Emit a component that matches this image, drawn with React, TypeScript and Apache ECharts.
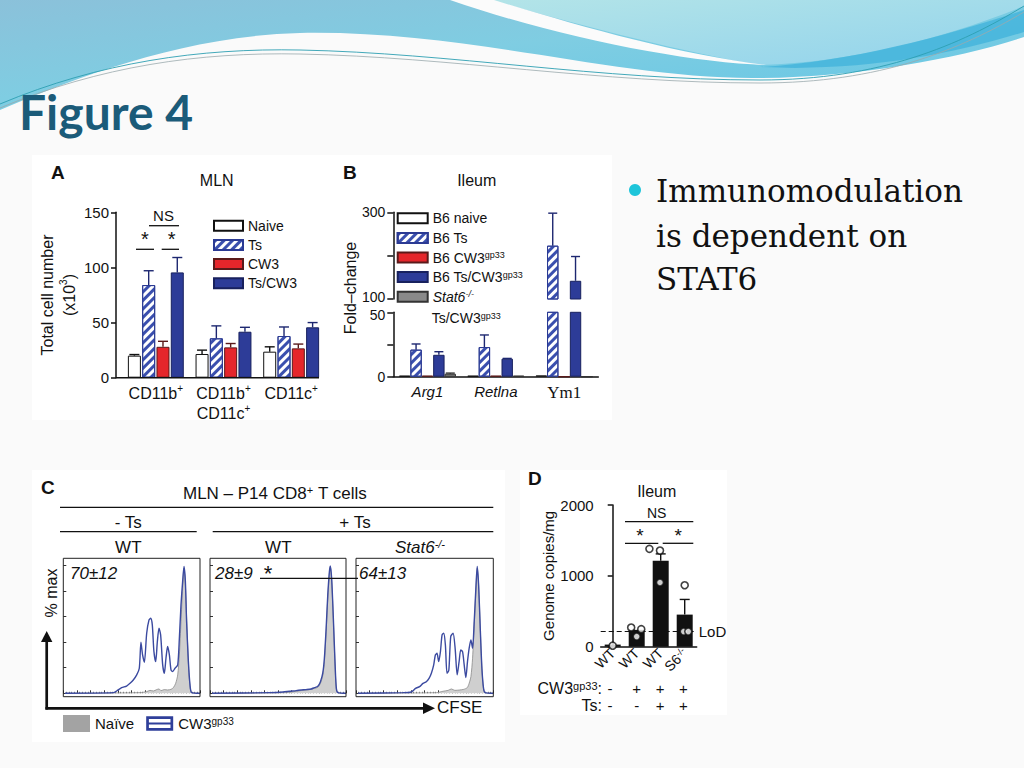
import React, { useEffect, useRef } from 'react';
import * as echarts from 'echarts';

const SANS = "'Liberation Sans', Arial, sans-serif";
const SERIF = "'DejaVu Serif', serif";

// ---------------- Panel A (MLN, total cell number x10^3) ----------------
const aCategories = ['CD11b+', 'CD11b+\nCD11c+', 'CD11c+'];
const aGroups = ['Naive', 'Ts', 'CW3', 'Ts/CW3'];
const aNaive = [20, 21.5, 23.6];
const aTs = [84, 35.7, 37.8];
const aCW3 = [28, 27.5, 26.6];
const aTsCW3 = [95.5, 41.7, 45.7];
const aNaiveErrTop = [21, 25, 28];
const aTsErrTop = [97, 47, 46];
const aCW3ErrTop = [33, 31, 30.5];
const aTsCW3ErrTop = [109, 45.7, 50];

// ---------------- Panel B (Ileum, fold-change, broken axis) ----------------
const bCategories = ['Arg1', 'Retlna', 'Ym1'];
const bGroups = ['B6 naive', 'B6 Ts', 'B6 CW3gp33', 'B6 Ts/CW3gp33', 'Stat6-/- Ts/CW3gp33'];
const bNaive = [0.8, 0.8, 1];
const bTs = [21, 23, 223];
const bCW3 = [0.8, 0.8, 0];
const bTsCW3 = [17, 14, 142];
const bStat6 = [2.3, 0.8, 0];
const bNaiveErrTop = [null, null, null];
const bTsErrTop = [25.4, 32.4, 298];
const bCW3ErrTop = [null, null, null];
const bTsCW3ErrTop = [19.4, 14.2, 198];
const bStat6ErrTop = [2.8, null, null];

// ---------------- Panel C (CFSE histograms, x = % of CFSE axis, y = % max) ----------------
const cHeaders = ['WT', 'WT', 'Stat6-/-'];
const cPercents = ['70±12', '28±9', '64±13'];
const c1Naive = [[1.2, 0], [56.1, 0.5], [61, 1.3], [63.4, 2.3], [65.9, 1.8], [68.3, 2.9], [70, 3.4], [71.5, 2.1], [73.9, 2.9], [76.3, 2.6], [78.8, 3.1], [80.5, 4.4], [82.2, 7.8], [83.7, 14.4], [84.9, 30], [86.1, 56.1], [87.3, 82.2], [88.3, 97.9], [89.3, 84.9], [90.5, 50.9], [91.7, 19.6], [92.9, 3.9], [94.4, 0.3], [100, 0]];
const c1Cw3 = [[1.2, 0], [36.6, 0.5], [39, 1.8], [42.7, 4.4], [46.3, 5.7], [48.8, 7.8], [51.2, 10.4], [53.7, 14.4], [55.6, 19.6], [56.8, 39.9], [58, 30], [59.3, 24.3], [61, 47], [62.7, 57.4], [63.9, 58.7], [65.1, 53.5], [66.3, 32.6], [67.6, 24.8], [68.8, 40.5], [70, 50.9], [71.2, 45.7], [72.7, 22.2], [73.9, 15.7], [75.1, 27.4], [76.3, 36.6], [77.6, 30], [78.8, 18.3], [80, 17], [81.7, 19.6], [83.7, 22.2], [84.9, 43.1], [86.1, 69.2], [87.3, 87.5], [88.3, 99.2], [89.3, 87.5], [90.2, 56.1], [91.5, 24.8], [92.7, 6.5], [93.9, 0.5], [100, 0]];
const c2Naive = [[1.5, 0], [56.1, 0.5], [63.4, 1.6], [68.3, 2.3], [73.2, 2.9], [76.8, 3.9], [79.3, 4.7], [81.2, 7.8], [82.9, 13.8], [84.1, 24.8], [85.4, 48.3], [86.6, 74.4], [87.8, 94], [88.5, 98.4], [89.5, 87.5], [90.7, 57.4], [92, 20.9], [92.9, 3.4], [94.1, 0.3], [100, 0]];
const c2Cw3 = [[1.5, 0], [43.9, 0.5], [53.7, 1], [58.5, 1.6], [63.4, 2.1], [67.1, 2.6], [70.7, 2.9], [74.4, 3.4], [76.8, 4.4], [79.3, 5.5], [81.2, 9.1], [82.9, 15.7], [84.1, 27.4], [85.4, 50.9], [86.6, 77], [87.8, 95.3], [88.5, 99.7], [89.5, 88.8], [90.7, 58.7], [92, 22.2], [92.9, 3.9], [94.1, 0.5], [100, 0]];
const c3Naive = [[1.5, 0], [58.5, 0.5], [63.4, 1.6], [67.1, 2.3], [69.5, 3.4], [72, 2.3], [75.6, 2.6], [78.5, 3.1], [81, 4.4], [82.4, 7.8], [83.7, 13.1], [84.9, 27.4], [86.1, 53.5], [87.3, 79.6], [88.3, 97.9], [89.3, 84.9], [90.5, 50.9], [91.7, 19.6], [92.9, 3.4], [94.1, 0.3], [100, 0]];
const c3Cw3 = [[1.5, 0], [34.1, 0.5], [40.2, 1], [43.4, 3.9], [46.3, 5.2], [48.8, 7.8], [51.2, 9.1], [53.2, 11.7], [54.9, 15.7], [56.6, 22.2], [57.8, 30], [59, 31.3], [60.2, 24.8], [61.5, 32.6], [62.7, 45.7], [63.9, 47], [65.1, 37.9], [66.3, 15.7], [67.6, 18], [69, 44.4], [70.7, 47], [72.2, 35.2], [73.7, 14.4], [75.1, 24.8], [76.3, 33.9], [77.6, 32.6], [78.8, 22.2], [80, 12.3], [81.2, 24.8], [82.4, 35.2], [83.7, 41.8], [84.9, 35.2], [86.1, 56.1], [87.3, 82.2], [88.3, 99.2], [89.3, 84.9], [90.5, 50.9], [91.7, 19.6], [92.9, 3.9], [94.1, 0.5], [100, 0]];

// ---------------- Panel D (Ileum, genome copies/mg) ----------------
const dCategories = ['WT', 'WT', 'WT', 'S6-/-'];
const dMeans = [30, 238, 1214, 453];
const dErrTop = [null, null, 1310, 667];
const dPoints = [[0, 14], [0.77, 271], [1.19, 248], [1, 143], [1.53, 1381], [1.97, 1357], [1.97, 906], [3, 867], [2.96, 214], [3.15, 214]];
const dLoD = 214;
const dCW3Row = ['-', '+', '+', '+'];
const dTsRow = ['-', '-', '+', '+'];

// ---------------- helpers ----------------
const supify = (s: string) => s.replace(/(\+|-\/-|gp33)/g, (m) => `{sup|${m}}`);
const SUP = { fontSize: 10, verticalAlign: 'top', fontFamily: SANS, color: '#111' };

const stripeDecal = {
  symbol: 'rect', symbolSize: 1, dashArrayX: [1, 0], dashArrayY: [2.2, 2.6],
  rotation: -Math.PI / 4, color: '#3a4fae',
};

function errData(vals: number[][], tops: (number | null)[][], cats: number[]) {
  const out: number[][] = [];
  vals.forEach((arr, si) => {
    cats.forEach((ci) => {
      const t = tops[si][ci];
      if (t != null) out.push([ci, si, arr[ci], t]);
    });
  });
  return out;
}

const makeErrRender = (step: number, n: number, cap: number, colors: string[]) => (params: any, api: any) => {
  const cat = api.value(0);
  const si = api.value(1);
  const base = api.coord([cat, api.value(2)]);
  const top = api.coord([cat, api.value(3)]);
  const x = base[0] + (si - (n - 1) / 2) * step;
  const c = colors[si];
  return {
    type: 'group',
    children: [
      { type: 'line', shape: { x1: x, y1: base[1], x2: x, y2: top[1] }, style: { stroke: c, lineWidth: 1.4 } },
      { type: 'line', shape: { x1: x - cap, y1: top[1], x2: x + cap, y2: top[1] }, style: { stroke: c, lineWidth: 1.4 } },
    ],
  };
};

const txt = (x: number, y: number, text: string, o: any = {}) => ({
  type: 'text', x, y, z: 30, rotation: o.rotation || 0,
  style: {
    text, fill: o.fill || '#111', fontSize: o.size || 15, fontFamily: o.family || SANS,
    fontWeight: o.weight || 'normal', fontStyle: o.fstyle || 'normal',
    align: o.align || 'center', textAlign: o.align || 'center',
    verticalAlign: o.va || 'middle', textVerticalAlign: o.va || 'middle',
    rich: o.rich,
  },
});
const ln = (x1: number, y1: number, x2: number, y2: number, w = 1.3, c = '#111') => ({
  type: 'line', z: 30, shape: { x1, y1, x2, y2 }, style: { stroke: c, lineWidth: w },
});

// header decoration shapes
const HEADER_SHAPES: Record<string, string> = {
  hdrMain: 'M0,0 L1024,0 L1024,37 C960,58 860,77 760,78 C620,80 470,30 300,33 C180,36 70,80 0,110 Z',
  hdrLight: 'M490,0 L1024,0 L1024,6 C940,40 850,62 760,65 C680,52 570,22 490,0 Z',
  hdrSwoosh: 'M450,0 L494,0 C575,25 680,55 766,65 C690,63 560,38 450,0 Z',
  hdrBand: 'M760,67 C850,62 950,35 1024,10 L1024,32 C950,55 860,72 760,67 Z',
  hdrLine1: 'M0,104 C100,62 200,48 300,50 C450,53 600,80 760,80 C880,80 960,45 1024,6',
  hdrLine2: 'M0,108 C100,66 200,52 300,54 C450,57 600,83 760,83 C880,83 960,50 1024,12',
};
let shapesRegistered = false;
function registerShapes() {
  if (shapesRegistered) return;
  Object.keys(HEADER_SHAPES).forEach((k) => {
    echarts.graphic.registerShape(k, echarts.graphic.extendPath(HEADER_SHAPES[k], {}) as any);
  });
  shapesRegistered = true;
}

function buildOption() {
  const aVals = [aNaive, aTs, aCW3, aTsCW3];
  const aTops = [aNaiveErrTop, aTsErrTop, aCW3ErrTop, aTsCW3ErrTop];
  const aStyles = [
    { color: '#ffffff', borderColor: '#111111', borderWidth: 1 },
    { color: '#ffffff', borderColor: '#2b3a93', borderWidth: 1, decal: stripeDecal },
    { color: '#e5262b', borderColor: '#5a1a1a', borderWidth: 1 },
    { color: '#2d3c98', borderColor: '#18215e', borderWidth: 1 },
  ];
  const aErrColors = ['#111111', '#1d2770', '#5a1a1a', '#1d2770'];

  const bVals = [bNaive, bTs, bCW3, bTsCW3, bStat6];
  const bTops = [bNaiveErrTop, bTsErrTop, bCW3ErrTop, bTsCW3ErrTop, bStat6ErrTop];
  const bStyles = [
    { color: '#ffffff', borderColor: '#111111', borderWidth: 1 },
    { color: '#ffffff', borderColor: '#2b3a93', borderWidth: 1, decal: stripeDecal },
    { color: '#e5262b', borderColor: '#5a1a1a', borderWidth: 1 },
    { color: '#2d3c98', borderColor: '#18215e', borderWidth: 1 },
    { color: '#8a8a8a', borderColor: '#333333', borderWidth: 1 },
  ];
  const bErrColors = ['#111111', '#1d2770', '#5a1a1a', '#1d2770', '#333333'];

  const cLefts = [63.3, 210, 356];
  const cWidths = [136.7, 136, 137.3];
  const cNaive = [c1Naive, c2Naive, c3Naive];
  const cCw3 = [c1Cw3, c2Cw3, c3Cw3];

  const gridBase = { containLabel: false, outerBoundsMode: 'none' };
  const grids: any[] = [
    { ...gridBase, left: 122, top: 212.3, width: 203, height: 165.4 },
    { ...gridBase, left: 393.3, top: 312.3, width: 205, height: 64.4 },
    { ...gridBase, left: 393.3, top: 212.3, width: 205, height: 86.7 },
    { ...gridBase, left: 600.7, top: 505, width: 96, height: 141.7 },
    ...cLefts.map((l, k) => ({ ...gridBase, left: l, top: 565.5, width: cWidths[k], height: 127.8 })),
  ];

  const axisDark = { lineStyle: { color: '#111', width: 1.5 } };
  const tickLbl = { color: '#111', fontFamily: SANS, fontSize: 15 };

  const xAxes: any[] = [
    {
      gridIndex: 0, type: 'category', data: aCategories,
      axisLine: { show: false }, axisTick: { show: false },
      axisLabel: {
        interval: 0, margin: 6, color: '#111', fontFamily: SANS, fontSize: 16, lineHeight: 20,
        formatter: (v: string) => supify(v), rich: { sup: { ...SUP, fontSize: 10 } },
      },
    },
    {
      gridIndex: 1, type: 'category', data: bCategories,
      axisLine: { show: true, ...axisDark }, axisTick: { show: false },
      axisLabel: {
        interval: 0, margin: 7, color: '#111',
        formatter: (v: string) => (v === 'Ym1' ? `{ym|${v}}` : `{it|${v}}`),
        rich: {
          it: { fontStyle: 'italic', fontFamily: SANS, fontSize: 15, color: '#111' },
          ym: { fontFamily: "'Liberation Serif', serif", fontSize: 17, color: '#111' },
        },
      },
    },
    { gridIndex: 2, type: 'category', data: bCategories, show: false },
    {
      gridIndex: 3, type: 'category', data: dCategories,
      axisLine: { show: true, ...axisDark }, axisTick: { show: false },
      axisLabel: {
        interval: 0, rotate: 45, margin: 4, color: '#111', fontFamily: SANS, fontSize: 14,
        formatter: (v: string, i: number) => supify(dCategories[i]), rich: { sup: { ...SUP, fontSize: 9 } },
      },
    },
    { gridIndex: 3, type: 'value', min: -0.5, max: 3.5, show: false },
    ...cLefts.map((_, k) => ({
      gridIndex: 4 + k, type: 'value', min: 0, max: 100, interval: 10, offset: 3.4,
      axisLine: { show: false },
      axisTick: { show: true, inside: true, length: 3, lineStyle: { color: '#333', width: 1 } },
      minorTick: { show: true, splitNumber: 5, length: 1.5, lineStyle: { color: '#555', width: 0.8 } },
      axisLabel: { show: false }, splitLine: { show: false }, minorSplitLine: { show: false },
    })),
  ];

  const yAxes: any[] = [
    {
      gridIndex: 0, type: 'value', min: 0, max: 150, interval: 50, offset: 6,
      axisLine: { show: true, ...axisDark },
      axisTick: { show: true, length: 5, ...axisDark },
      axisLabel: { ...tickLbl, margin: 7 }, splitLine: { show: false },
      name: 'Total cell number\n(x10{sup|3})', nameLocation: 'middle', nameRotate: 90, nameGap: 19,
      nameTextStyle: { color: '#111', fontFamily: SANS, fontSize: 16, lineHeight: 22, rich: { sup: { ...SUP, fontSize: 10 } } },
    },
    {
      gridIndex: 1, type: 'value', min: 0, max: 50, interval: 25,
      axisLine: { show: true, ...axisDark },
      axisTick: { show: true, length: 6, ...axisDark },
      axisLabel: {
        ...tickLbl, fontSize: 14, margin: 8,
        formatter: (v: number) => (v === 25 ? '' : v === 50 ? `{lo|${v}}` : String(v)),
        rich: { lo: { fontFamily: SANS, fontSize: 14, color: '#111', padding: [5, 0, 0, 0] } },
      },
      splitLine: { show: false },
    },
    {
      gridIndex: 2, type: 'value', min: 100, max: 300, interval: 100,
      axisLine: { show: true, ...axisDark },
      axisTick: { show: true, length: 6, ...axisDark },
      axisLabel: {
        ...tickLbl, fontSize: 14, margin: 8,
        formatter: (v: number) => (v === 200 ? '' : v === 100 ? `{hi|${v}}` : String(v)),
        rich: { hi: { fontFamily: SANS, fontSize: 14, color: '#111', padding: [0, 0, 4, 0] } },
      },
      splitLine: { show: false },
    },
    {
      gridIndex: 3, type: 'value', min: 0, max: 2000, interval: 1000,
      axisLine: { show: true, ...axisDark },
      axisTick: { show: true, length: 5, ...axisDark },
      axisLabel: { ...tickLbl, margin: 7, formatter: (v: number) => String(v) }, splitLine: { show: false },
      name: 'Genome copies/mg', nameLocation: 'middle', nameRotate: 90, nameGap: 45,
      nameTextStyle: { color: '#111', fontFamily: SANS, fontSize: 15 },
    },
    ...cLefts.map((_, k) => ({
      gridIndex: 4 + k, type: 'value', min: 0, max: 100, interval: 20,
      axisLine: { show: false },
      axisTick: { show: true, inside: true, length: 3, lineStyle: { color: '#333', width: 1 } },
      axisLabel: { show: false }, splitLine: { show: false },
    })),
  ];

  const series: any[] = [];
  // Panel A bars
  aGroups.forEach((name, si) => {
    series.push({
      type: 'bar', name, xAxisIndex: 0, yAxisIndex: 0, data: aVals[si],
      barWidth: 13, barGap: '10%', itemStyle: aStyles[si],
    });
  });
  series.push({
    type: 'custom', xAxisIndex: 0, yAxisIndex: 0, silent: true, z: 3,
    dimensions: ['cat', 'si', 'val', 'top'], encode: { x: 'cat', y: ['val', 'top'] },
    data: errData(aVals, aTops, [0, 1, 2]), renderItem: makeErrRender(14.3, 4, 5, aErrColors),
  });
  // Panel B lower (0-50) and upper (100-300) bars
  bGroups.forEach((name, si) => {
    series.push({
      type: 'bar', name, xAxisIndex: 1, yAxisIndex: 1, data: bVals[si], clip: true,
      barWidth: 11.4, barGap: '0%', itemStyle: bStyles[si],
    });
  });
  bGroups.forEach((name, si) => {
    series.push({
      type: 'bar', name, xAxisIndex: 2, yAxisIndex: 2, clip: true,
      data: bVals[si].map((v, ci) => (bCategories[ci] === 'Ym1' && v > 100 ? v : '-')),
      barWidth: 11.4, barGap: '0%', itemStyle: bStyles[si],
    });
  });
  series.push({
    type: 'custom', xAxisIndex: 1, yAxisIndex: 1, silent: true, z: 3,
    dimensions: ['cat', 'si', 'val', 'top'], encode: { x: 'cat', y: ['val', 'top'] },
    data: errData(bVals, bTops, [0, 1]), renderItem: makeErrRender(11.4, 5, 4.5, bErrColors),
  });
  series.push({
    type: 'custom', xAxisIndex: 2, yAxisIndex: 2, silent: true, z: 3,
    dimensions: ['cat', 'si', 'val', 'top'], encode: { x: 'cat', y: ['val', 'top'] },
    data: errData(bVals, bTops, [2]), renderItem: makeErrRender(11.4, 5, 4.5, bErrColors),
  });
  // Panel D
  series.push({
    type: 'bar', name: 'Genome copies', xAxisIndex: 3, yAxisIndex: 3, data: dMeans,
    barWidth: 16, itemStyle: { color: '#111111' },
    markLine: {
      silent: true, symbol: 'none',
      lineStyle: { type: [5, 3], color: '#111', width: 1.2 },
      label: { position: 'end', formatter: 'LoD', fontSize: 15, color: '#111', fontFamily: SANS, distance: 2 },
      data: [{ yAxis: dLoD }],
    },
  });
  series.push({
    type: 'custom', xAxisIndex: 3, yAxisIndex: 3, silent: true, z: 3,
    dimensions: ['cat', 'si', 'val', 'top'], encode: { x: 'cat', y: ['val', 'top'] },
    data: errData([dMeans], [dErrTop], [0, 1, 2, 3]), renderItem: makeErrRender(0, 1, 5, ['#111111']),
  });
  series.push({
    type: 'scatter', name: 'Mice', xAxisIndex: 4, yAxisIndex: 3, data: dPoints, z: 5,
    symbol: 'circle', symbolSize: 7,
    itemStyle: { color: '#ffffff', borderColor: '#111111', borderWidth: 1.6 },
  });
  // Panel C histograms
  cLefts.forEach((_, k) => {
    series.push({
      type: 'line', name: 'Naïve', xAxisIndex: 5 + k, yAxisIndex: 4 + k, data: cNaive[k],
      smooth: 0.25, symbol: 'none', color: '#a8a8a8',
      lineStyle: { color: '#8a8a8a', width: 0.8 }, areaStyle: { color: '#cfcfcf', opacity: 1 },
    });
    series.push({
      type: 'line', name: 'CW3gp33', xAxisIndex: 5 + k, yAxisIndex: 4 + k, data: cCw3[k],
      smooth: 0.25, symbol: 'none', color: '#3b4aa0', z: 4,
      lineStyle: { color: '#3b4aa0', width: 1.4 },
    });
  });

  const legendText = { color: '#111', fontFamily: SANS, fontSize: 14, lineHeight: 14 };
  const legends: any[] = [
    {
      data: aGroups.map((n) => ({ name: n, icon: 'rect' })), orient: 'vertical', left: 213, top: 218.7,
      itemWidth: 29, itemHeight: 10, itemGap: 5.2, padding: 0, selectedMode: false,
      textStyle: { ...legendText },
    },
    {
      data: bGroups.map((n) => ({ name: n, icon: 'rect' })), orient: 'vertical', left: 396.7, top: 211.3,
      itemWidth: 30, itemHeight: 10, itemGap: 5.6, padding: 0, selectedMode: false,
      formatter: (n: string) => (n.startsWith('Stat6') ? '{it|Stat6}{supi|-/-}' : supify(n)),
      textStyle: {
        ...legendText,
        rich: {
          sup: { ...SUP, fontSize: 9 },
          supi: { ...SUP, fontSize: 9, fontStyle: 'italic' },
          it: { fontStyle: 'italic', fontFamily: SANS, fontSize: 14, color: '#111' },
        },
      },
    },
    {
      data: [
        { name: 'Naïve', icon: 'rect', itemStyle: { color: '#a3a3a3', borderWidth: 0 } },
        {
          name: 'CW3gp33',
          icon: 'path://M0,0H30V16H0Z M3,3V7H27V3Z M3,9V13H27V9Z',
          itemStyle: { color: '#2f3f9a', borderWidth: 0 },
        },
      ],
      orient: 'horizontal', left: 63, top: 715, itemWidth: 27, itemHeight: 17, itemGap: 12,
      padding: 0, selectedMode: false,
      formatter: (n: string) => supify(n),
      textStyle: { color: '#111', fontFamily: SANS, fontSize: 15, rich: { sup: { ...SUP, fontSize: 10 } } },
    },
  ];

  const rich = { sup: { ...SUP, fontSize: 11 }, supi: { ...SUP, fontSize: 11, fontStyle: 'italic' } };

  const elements: any[] = [
    // slide decoration
    {
      type: 'hdrMain', z: -20,
      style: {
        fill: new echarts.graphic.LinearGradient(0, 0, 1, 1, [
          { offset: 0, color: '#8bc1da' }, { offset: 0.45, color: '#7fcde2' }, { offset: 1, color: '#63c6e5' },
        ]),
      },
    },
    {
      type: 'hdrLight', z: -19,
      style: {
        fill: new echarts.graphic.LinearGradient(0, 0, 1, 1, [
          { offset: 0, color: '#b3e4e8' }, { offset: 1, color: '#92d3ec' },
        ]),
      },
    },
    { type: 'hdrSwoosh', z: -18, style: { fill: '#fbfbfb' } },
    { type: 'hdrBand', z: -18, style: { fill: '#45b5dc', opacity: 0.85 } },
    { type: 'hdrLine1', z: -17, style: { fill: null, stroke: '#2e9fb2', lineWidth: 0.9 } },
    { type: 'hdrLine2', z: -17, style: { fill: null, stroke: '#9aa9ad', lineWidth: 0.8 } },
    txt(19, 111, 'Figure 4', { size: 48, family: "Lato, 'Open Sans', sans-serif", weight: 'bold', fill: '#1b5b79', align: 'left' }),
    // bullet
    { type: 'circle', z: 30, shape: { cx: 635, cy: 190, r: 6 }, style: { fill: '#1ec5da' } },
    txt(656, 190.5, 'Immunomodulation', { size: 31, family: SERIF, align: 'left' }),
    txt(656, 235.5, 'is dependent on', { size: 31, family: SERIF, align: 'left' }),
    txt(656, 279, 'STAT6', { size: 31, family: SERIF, align: 'left' }),
    // panel backgrounds
    { type: 'rect', z: -10, shape: { x: 32, y: 155, width: 580, height: 265 }, style: { fill: '#ffffff' } },
    { type: 'rect', z: -10, shape: { x: 32, y: 470, width: 473, height: 272 }, style: { fill: '#ffffff' } },
    { type: 'rect', z: -10, shape: { x: 520, y: 470, width: 207, height: 245 }, style: { fill: '#ffffff' } },

    // ---- Panel A annotations
    txt(51, 172, 'A', { size: 19, weight: 'bold', align: 'left' }),
    txt(216.7, 180, 'MLN', { size: 16 }),
    ln(116, 377.7, 319, 377.7, 1.5),
    txt(163.5, 215, 'NS', { size: 15 }),
    ln(149, 225.7, 179, 225.7),
    txt(145, 239, '*', { size: 20 }),
    txt(171.7, 239, '*', { size: 20 }),
    ln(136, 249.3, 154, 249.3),
    ln(161.7, 249.3, 179, 249.3),

    // ---- Panel B annotations
    txt(343, 172, 'B', { size: 19, weight: 'bold', align: 'left' }),
    txt(476.7, 180, 'Ileum', { size: 16 }),
    txt(350, 288, 'Fold–change', { size: 16, rotation: Math.PI / 2 }),
    txt(431.7, 318.3, 'Ts/CW3{sup|gp33}', { size: 14, align: 'left', rich: { sup: { ...SUP, fontSize: 9 } } }),

    // ---- Panel C annotations
    txt(41, 487, 'C', { size: 19, weight: 'bold', align: 'left' }),
    txt(275, 493.3, 'MLN – P14 CD8{sup|+} T cells', { size: 17, rich }),
    ln(60, 507.3, 493.3, 507.3),
    txt(128.3, 522.5, '- Ts', { size: 17 }),
    txt(355, 522.5, '+ Ts', { size: 17 }),
    ln(60, 531.7, 196.7, 531.7),
    ln(212.7, 531.7, 493.3, 531.7),
    txt(128.3, 547.3, cHeaders[0], { size: 17 }),
    txt(278.3, 547.3, cHeaders[1], { size: 17 }),
    txt(420, 547.3, 'Stat6{supi|-/-}', { size: 17, fstyle: 'italic', rich }),
    ...cLefts.map((l, k) => ({
      type: 'rect', z: 25, shape: { x: l, y: 558.3, width: cWidths[k], height: 138.4 },
      style: { fill: null, stroke: '#222', lineWidth: 1 },
    })),
    txt(70, 573.3, cPercents[0], { size: 17, fstyle: 'italic', align: 'left' }),
    txt(215, 573.3, cPercents[1], { size: 17, fstyle: 'italic', align: 'left' }),
    txt(268, 573, '*', { size: 22 }),
    ln(260, 578.3, 358, 578.3),
    txt(359, 573.3, cPercents[2], { size: 17, fstyle: 'italic', align: 'left' }),
    txt(51, 593, '% max', { size: 16, rotation: Math.PI / 2 }),
    ln(46.7, 709.5, 46.7, 640, 2.7),
    { type: 'polygon', z: 30, shape: { points: [[41, 642], [52.4, 642], [46.7, 631]] }, style: { fill: '#111' } },
    ln(45.4, 708.3, 425, 708.3, 2.7),
    { type: 'polygon', z: 30, shape: { points: [[423, 702.6], [423, 714], [435, 708.3]] }, style: { fill: '#111' } },
    txt(437, 707.5, 'CFSE', { size: 17, align: 'left' }),

    // ---- Panel D annotations
    txt(528, 478, 'D', { size: 19, weight: 'bold', align: 'left' }),
    txt(656.7, 491.7, 'Ileum', { size: 16 }),
    txt(656.7, 513, 'NS', { size: 14 }),
    ln(625, 521.7, 693.3, 521.7),
    txt(640, 535, '*', { size: 19 }),
    txt(678.3, 535, '*', { size: 19 }),
    ln(625, 543.3, 658.3, 543.3),
    ln(662.7, 543.3, 693.3, 543.3),
    txt(602, 688.3, 'CW3{sup|gp33}:', { size: 16, align: 'right', rich: { sup: { ...SUP, fontSize: 11 } } }),
    txt(602, 705, 'Ts:', { size: 16, align: 'right' }),
    ...[610, 636.7, 660, 683.3].map((x, i) => txt(x, 688.3, dCW3Row[i], { size: 15 })),
    ...[610, 636.7, 660, 683.3].map((x, i) => txt(x, 705, dTsRow[i], { size: 15 })),
  ];

  return {
    animation: false,
    backgroundColor: '#fafafa',
    grid: grids,
    xAxis: xAxes,
    yAxis: yAxes,
    legend: legends,
    series,
    graphic: { elements },
  };
}

export default function App() {
  const ref = useRef<HTMLDivElement>(null);
  useEffect(() => {
    if (!ref.current) return;
    registerShapes();
    const chart = echarts.init(ref.current, null, { renderer: 'svg' });
    chart.setOption(buildOption() as any);
    return () => chart.dispose();
  }, []);
  return (
    <div
      ref={ref}
      style={{ position: 'absolute', left: 0, top: 0, width: 1024, height: 768 }}
    />
  );
}
